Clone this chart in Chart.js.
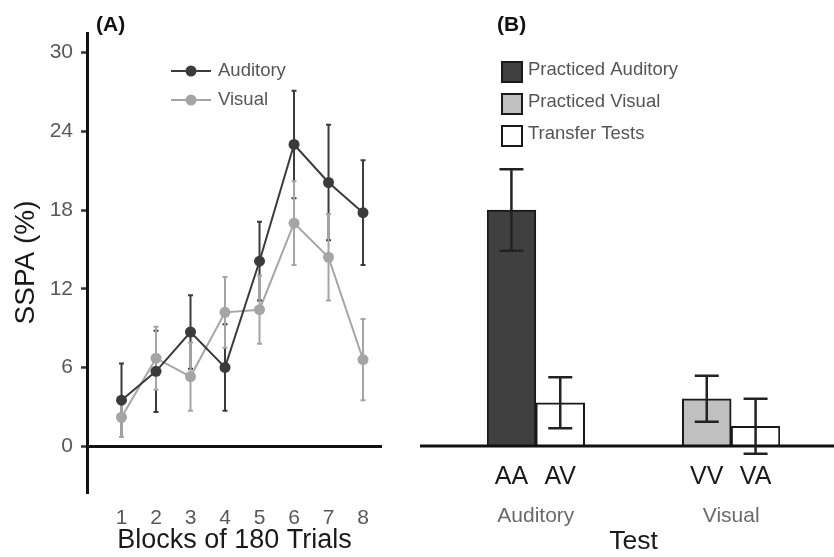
<!DOCTYPE html>
<html>
<head>
<meta charset="utf-8">
<script src="https://cdn.jsdelivr.net/npm/chart.js@4.4.1/dist/chart.umd.min.js"></script>
<style>
  html, body { margin: 0; padding: 0; background: #fff; }
  #wrap { position: relative; width: 834px; height: 557px; overflow: hidden; font-family: "Liberation Sans", Arial, sans-serif; }
  .panel { position: absolute; top: 0; height: 557px; }
  #left { left: 0; width: 420px; }
  #right { left: 420px; width: 414px; }
  .tag { position: absolute; top: 13px; font-weight: bold; font-size: 21px; line-height: 21px; color: #111; }
</style>
</head>
<body>
<div id="wrap">
  <div class="panel" id="left"><canvas id="chartA"></canvas></div>
  <div class="panel" id="right"><canvas id="chartB"></canvas></div>
  <div class="tag" style="left:96px">(A)</div>
  <div class="tag" style="left:497px">(B)</div>
</div>
<script>
const FONT = '"Liberation Sans", Arial, sans-serif';

// --- panel A: learning curves ---
const blocks = [1, 2, 3, 4, 5, 6, 7, 8];
const auditoryMean = [3.5, 5.7, 8.7, 6.0, 14.1, 23.0, 20.1, 17.8];
const auditoryErr  = [2.8, 3.1, 2.8, 3.3, 3.0, 4.1, 4.4, 4.0];
const visualMean   = [2.2, 6.7, 5.3, 10.2, 10.4, 17.0, 14.4, 6.6];
const visualErr    = [1.5, 2.4, 2.6, 2.7, 2.6, 3.2, 3.3, 3.1];
const yTicks = [0, 6, 12, 18, 24, 30];

// --- panel B: transfer tests ---
const testLabels = ['AA', 'AV', '', '', 'VV', 'VA'];
const practicedAuditory = [18.0, null, null, null, null, null];
const practicedVisual   = [null, null, null, null, 3.6, null];
const transferTests     = [null, 3.3, null, null, null, 1.5];
const testErr = [3.1, 1.95, null, null, 1.75, 2.1];
const groupLabels = ['Auditory', 'Visual'];
const groupIndex = [[0, 1], [4, 5]];

const DARK = '#3b3b3b';
const LIGHT = '#a5a5a5';

// error bars under the lines of panel A, plus its legend
const lineErrorBars = {
  id: 'lineErrorBars',
  beforeDatasetsDraw(chart) {
    const { ctx, scales: { y } } = chart;
    chart.data.datasets.forEach((ds, di) => {
      const meta = chart.getDatasetMeta(di);
      ctx.save();
      ctx.strokeStyle = ds.borderColor;
      ctx.lineWidth = 2;
      meta.data.forEach((pt, i) => {
        const v = ds.data[i].y, e = ds.errors[i];
        const top = y.getPixelForValue(v + e);
        const bot = y.getPixelForValue(v - e);
        ctx.beginPath();
        ctx.moveTo(pt.x, top); ctx.lineTo(pt.x, bot);
        ctx.moveTo(pt.x - 2.5, top); ctx.lineTo(pt.x + 2.5, top);
        ctx.moveTo(pt.x - 2.5, bot); ctx.lineTo(pt.x + 2.5, bot);
        ctx.stroke();
      });
      ctx.restore();
    });
  },
  afterDraw(chart) {
    const ctx = chart.ctx;
    chart.data.datasets.forEach((ds, i) => {
      const y = 71 + i * 29;
      ctx.save();
      ctx.strokeStyle = ds.borderColor;
      ctx.lineWidth = 2;
      ctx.beginPath(); ctx.moveTo(171, y); ctx.lineTo(211, y); ctx.stroke();
      ctx.fillStyle = ds.borderColor;
      ctx.beginPath(); ctx.arc(191, y, 5.5, 0, Math.PI * 2); ctx.fill();
      ctx.fillStyle = '#555';
      ctx.font = '18.5px ' + FONT;
      ctx.textBaseline = 'alphabetic';
      ctx.fillText(ds.label, 218, y + 4.5);
      ctx.restore();
    });
  }
};

new Chart(document.getElementById('chartA'), {
  type: 'line',
  data: {
    datasets: [
      { label: 'Auditory', data: blocks.map((b, i) => ({ x: b, y: auditoryMean[i] })), errors: auditoryErr,
        borderColor: DARK, backgroundColor: DARK, borderWidth: 2, pointRadius: 5.5, pointBorderWidth: 0, tension: 0 },
      { label: 'Visual', data: blocks.map((b, i) => ({ x: b, y: visualMean[i] })), errors: visualErr,
        borderColor: LIGHT, backgroundColor: LIGHT, borderWidth: 2, pointRadius: 5.5, pointBorderWidth: 0, tension: 0 }
    ]
  },
  options: {
    responsive: true,
    maintainAspectRatio: false,
    animation: false,
    layout: { padding: { top: 33, right: 38, left: 0, bottom: 0 } },
    plugins: { legend: { display: false }, tooltip: { enabled: false } },
    scales: {
      x: {
        type: 'linear', min: 0, max: 8.55,
        afterBuildTicks: s => { s.ticks = blocks.map(v => ({ value: v })); },
        afterFit: s => { s.height = 65; },
        grid: { display: false },
        border: { display: false },
        ticks: { color: '#595959', font: { family: FONT, size: 21 }, padding: 6 },
        title: { display: true, text: 'Blocks of 180 Trials', color: '#1a1a1a',
                 font: { family: FONT, size: 27, lineHeight: 1 }, padding: { top: 0, bottom: 3 } }
      },
      y: {
        min: -3.5, max: 31.5,
        afterBuildTicks: s => { s.ticks = yTicks.map(v => ({ value: v })); },
        afterFit: s => { s.width = 87; },
        grid: {
          color: c => c.tick && c.tick.value === 0 ? '#111' : 'rgba(0,0,0,0)',
          lineWidth: c => c.tick && c.tick.value === 0 ? 3 : 1,
          tickColor: '#333', tickWidth: 2.5, tickLength: 6
        },
        border: { display: true, color: '#111', width: 3 },
        ticks: { color: '#595959', font: { family: FONT, size: 21 }, padding: 8 },
        title: { display: true, text: 'SSPA (%)', color: '#1a1a1a',
                 font: { family: FONT, size: 28, lineHeight: 1 }, padding: { top: 12, bottom: 0 } }
      }
    }
  },
  plugins: [lineErrorBars]
});

// zero line, error bars, group labels and legend of panel B
const panelB = {
  id: 'panelB',
  afterDatasetsDraw(chart) {
    const { ctx, scales: { x, y } } = chart;
    const y0 = y.getPixelForValue(0);
    ctx.save();
    ctx.strokeStyle = '#111';
    ctx.lineWidth = 3;
    ctx.beginPath(); ctx.moveTo(0, y0); ctx.lineTo(chart.width, y0); ctx.stroke();
    ctx.strokeStyle = '#222';
    ctx.lineWidth = 2.5;
    testErr.forEach((e, i) => {
      if (e == null) return;
      const ds = chart.data.datasets.find(d => d.data[i] != null);
      const v = ds.data[i];
      const cx = x.getPixelForValue(i);
      const top = y.getPixelForValue(v + e);
      const bot = y.getPixelForValue(v - e);
      ctx.beginPath();
      ctx.moveTo(cx, top); ctx.lineTo(cx, bot);
      ctx.moveTo(cx - 12, top); ctx.lineTo(cx + 12, top);
      ctx.moveTo(cx - 12, bot); ctx.lineTo(cx + 12, bot);
      ctx.stroke();
    });
    ctx.restore();
  },
  afterDraw(chart) {
    const { ctx, scales: { x } } = chart;
    ctx.save();
    ctx.fillStyle = '#6a6a6a';
    ctx.font = '21px ' + FONT;
    ctx.textAlign = 'center';
    ctx.textBaseline = 'middle';
    groupLabels.forEach((g, k) => {
      const [a, b] = groupIndex[k];
      ctx.fillText(g, (x.getPixelForValue(a) + x.getPixelForValue(b)) / 2, 516);
    });
    ctx.textAlign = 'left';
    ctx.textBaseline = 'alphabetic';
    ctx.font = '18.5px ' + FONT;
    chart.data.datasets.forEach((ds, i) => {
      const top = 62 + i * 32;
      ctx.fillStyle = ds.backgroundColor;
      ctx.fillRect(82, top, 20, 20);
      ctx.strokeStyle = '#1a1a1a';
      ctx.lineWidth = 2;
      ctx.strokeRect(82, top, 20, 20);
      ctx.fillStyle = '#555';
      ctx.fillText(ds.label, 108, top + 13);
    });
    ctx.restore();
  }
};

const barStyle = { borderColor: '#1a1a1a', borderWidth: 2, categoryPercentage: 1, barPercentage: 1 };

new Chart(document.getElementById('chartB'), {
  type: 'bar',
  data: {
    labels: testLabels,
    datasets: [
      Object.assign({ label: 'Practiced Auditory', data: practicedAuditory, backgroundColor: '#404040' }, barStyle),
      Object.assign({ label: 'Practiced Visual', data: practicedVisual, backgroundColor: '#c0c0c0' }, barStyle),
      Object.assign({ label: 'Transfer Tests', data: transferTests, backgroundColor: '#ffffff' }, barStyle)
    ]
  },
  options: {
    responsive: true,
    maintainAspectRatio: false,
    animation: false,
    datasets: { bar: { grouped: false } },
    layout: { padding: { top: 33, right: 54, left: 67, bottom: 0 } },
    plugins: { legend: { display: false }, tooltip: { enabled: false } },
    scales: {
      x: {
        afterFit: s => { s.height = 111; },
        grid: { display: false },
        border: { display: false },
        ticks: { color: '#1a1a1a', font: { family: FONT, size: 25 }, padding: 8 },
        title: { display: true, text: 'Test', color: '#1a1a1a',
                 font: { family: FONT, size: 26.5, lineHeight: 1 }, padding: { top: 0, bottom: 2 } }
      },
      y: { display: false, min: 0, max: 31.5 }
    }
  },
  plugins: [panelB]
});
</script>
</body>
</html>
